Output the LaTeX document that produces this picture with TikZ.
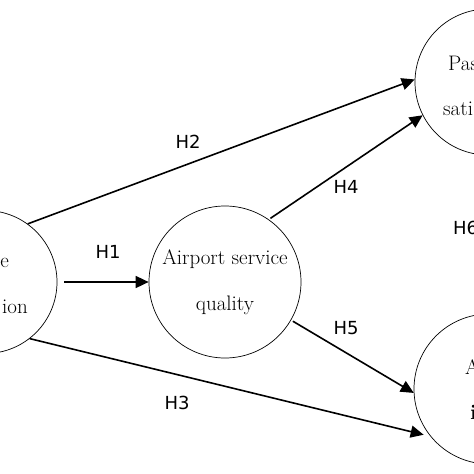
\documentclass[tikz,border=0pt]{standalone}
\usepackage{fontspec}
\newfontfamily\hfont{DejaVu Sans}
\usetikzlibrary{arrows.meta}

\begin{document}
\begin{tikzpicture}[x=1pt, y=-1pt,
    construct/.style={draw, circle, line width=0.7pt, inner sep=0pt},
    hypo/.style={-{Triangle[length=13pt, width=12pt]}, line width=1.6pt},
    hlabel/.style={font=\hfont\fontsize{18}{18}\selectfont, inner sep=0pt},
    ctext/.style={font=\fontsize{21}{24}\selectfont, inner sep=0pt}]
      \useasboundingbox (0,0) rectangle (474,474);
      \clip (0,0) rectangle (474,474);

      \newcommand\LINES{\fontsize{21}{46}\selectfont}

      \node[construct, minimum size=143pt] (SE) at (-14.5, 282) {};
      \node[construct, minimum size=152pt, align=center, font=\LINES] (ASQ) at (225, 282) {Airport service\\quality};
      \node[construct, minimum size=146pt] (PS) at (488, 82) {};
      \node[construct, minimum size=150pt] (AI) at (489, 389) {};

      \node[ctext, anchor=base east] (SEa) at (9, 267) {e};
      \node[ctext, anchor=base east] (SEb) at (28, 313) {ion};
      \node[ctext, anchor=base west] (PSa) at (448, 70) {Pas};
      \node[ctext, anchor=base west] (PSb) at (443, 115) {sati};
      \node[ctext, anchor=base west] (AIa) at (465, 374) {A};
      \node[ctext, anchor=base west] (AIb) at (470, 419) {\textbf{i}};

      \draw[hypo, shorten <=7pt] (SE.east) -- (ASQ.west);
      \draw[hypo] (SE.54) -- (PS.178);
      \draw[hypo, shorten >=7pt] (SE.-52) -- (AI.219);
      \draw[hypo, shorten <=2pt] (ASQ.55) -- (PS.207);
      \draw[hypo, shorten <=2pt] (ASQ.-30) -- (AI.183);

      \node[hlabel] (H1) at (108, 252) {H1};
      \node[hlabel] (H2) at (188, 142) {H2};
      \node[hlabel] (H3) at (177, 403) {H3};
      \node[hlabel] (H4) at (346, 187) {H4};
      \node[hlabel] (H5) at (346, 328) {H5};
      \node[hlabel, anchor=west] (H6) at (453, 228) {H6};

    \end{tikzpicture}
\end{document}
